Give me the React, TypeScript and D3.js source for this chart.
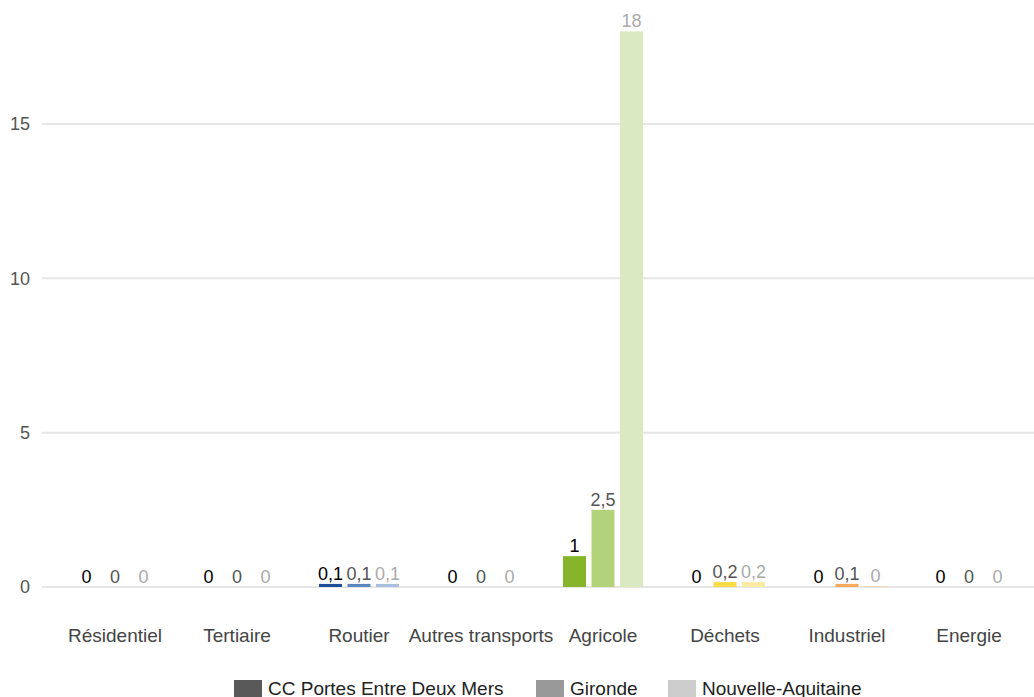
import React from "react";
import * as d3 from "d3";

const categories = ["Résidentiel", "Tertiaire", "Routier", "Autres transports", "Agricole", "Déchets", "Industriel", "Energie"];
const series = ["CC Portes Entre Deux Mers", "Gironde", "Nouvelle-Aquitaine"];
const valuesCC = [0, 0, 0.1, 0, 1, 0, 0, 0];
const valuesGironde = [0, 0, 0.1, 0, 2.5, 0.16, 0.1, 0];
const valuesNA = [0, 0, 0.1, 0, 18, 0.16, 0.03, 0];
const yTicks = [0, 5, 10, 15];

const categoryColors = [
  ["#595959", "#999999", "#cccccc"],
  ["#595959", "#999999", "#cccccc"],
  ["#1f4e99", "#5b86bf", "#a8bfdd"],
  ["#595959", "#999999", "#cccccc"],
  ["#86b52b", "#b3d37a", "#dbe9c0"],
  ["#f6d93a", "#fadc48", "#fbeaa2"],
  ["#f39c45", "#f7a95c", "#f9d7b2"],
  ["#595959", "#999999", "#cccccc"],
];
const legendColors = ["#595959", "#999999", "#cccccc"];
const labelColors = ["#000000", "#555555", "#aaaaaa"];

const fmt = (v: number) => {
  const r = Math.round(v * 10) / 10;
  return String(r).replace(".", ",");
};

export default function App() {
  const W = 1034, H = 697;
  const x = d3.scaleBand<string>().domain(categories).range([54, 1030]).padding(0);
  const groupW = 80;
  const xs = d3.scaleBand<string>().domain(series).range([0, groupW]).paddingInner(0.193).paddingOuter(0);
  const y = d3.scaleLinear().domain([0, 18]).range([587, 31.4]);
  const all = [valuesCC, valuesGironde, valuesNA];
  const font = "'Liberation Sans', Arial, sans-serif";
  const legendX = [234, 536, 668];

  return (
    <svg width={W} height={H} style={{ position: "absolute", left: 0, top: 0, fontFamily: font }}>
      <rect width={W} height={H} fill="#fff" />
      {yTicks.map((t) => (
        <g key={t}>
          <line x1={42} x2={1034} y1={y(t)} y2={y(t)} stroke="#e6e6e6" strokeWidth={2} />
          <text x={30} y={y(t)} dy="0.35em" textAnchor="end" fontSize={18} fill="#555">{t}</text>
        </g>
      ))}
      {categories.map((c, ci) => {
        const gx = (x(c) as number) + (x.bandwidth() - groupW) / 2;
        return (
          <g key={c}>
            {series.map((s, si) => {
              const v = all[si][ci];
              const bx = gx + (xs(s) as number);
              return (
                <g key={s}>
                  {v > 0 && (
                    <rect x={bx} y={y(v)} width={xs.bandwidth()} height={y(0) - y(v)} fill={categoryColors[ci][si]} />
                  )}
                  <text x={bx + xs.bandwidth() / 2} y={y(v) - 4} textAnchor="middle" fontSize={18} fill={labelColors[si]}>{fmt(v)}</text>
                </g>
              );
            })}
            <text x={(x(c) as number) + x.bandwidth() / 2} y={642} textAnchor="middle" fontSize={19} fill="#444">{c}</text>
          </g>
        );
      })}
      {series.map((s, si) => (
        <g key={s}>
          <rect x={legendX[si]} y={680} width={28} height={17} fill={legendColors[si]} />
          <text x={legendX[si] + 34} y={695} fontSize={19} fill="#222">{s}</text>
        </g>
      ))}
    </svg>
  );
}
